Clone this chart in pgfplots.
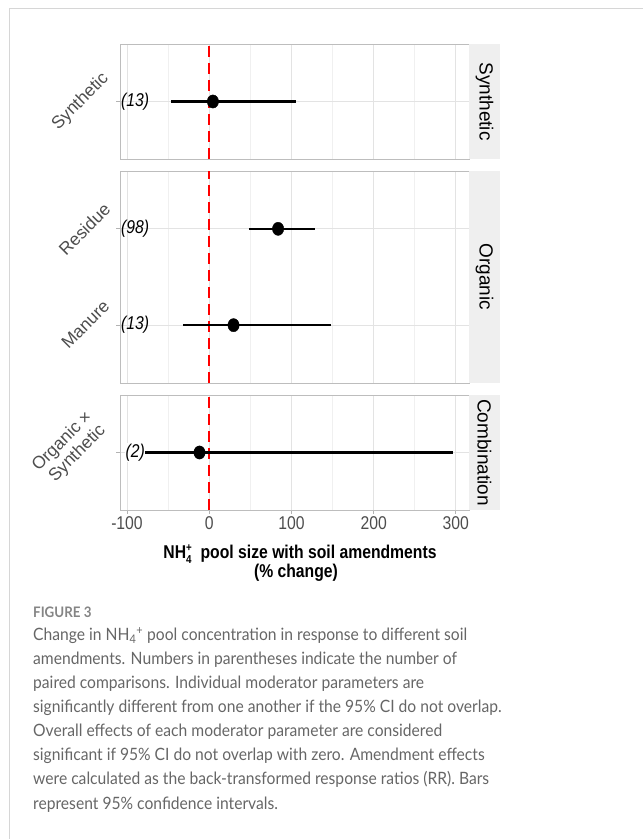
\documentclass[border=0pt]{standalone}
\usepackage{pgfplots}
\pgfplotsset{compat=1.18}
\usepackage{fontspec}
\setmainfont{Liberation Sans}[FakeStretch=0.85]
\newfontfamily\plainsans{Liberation Sans}
\newfontfamily\capfont{Lato}[FakeStretch=0.92]
\definecolor{gridmaj}{HTML}{E3E3E3}
\definecolor{gridmin}{HTML}{F0F0F0}
\definecolor{bordergray}{HTML}{BDBDBD}
\definecolor{tickgray}{HTML}{B3B3B3}
\definecolor{stripgray}{HTML}{EFEFEF}
\definecolor{labgray}{HTML}{4D4D4D}
\definecolor{capgray}{HTML}{666666}
\definecolor{figgray}{HTML}{858585}
\definecolor{framegray}{HTML}{D6D6D6}
\tikzset{nlab/.style={font=\fontsize{18.5}{18.5}\selectfont\itshape, text=black, inner sep=0pt}}
\pgfplotsset{
  panel/.style={
    scale only axis, width=349pt,
    xmin=-108.5, xmax=316,
    xtick={-100,0,100,200,300}, minor xtick={-50,50,150,250},
    xmajorgrids, xminorgrids, ymajorgrids,
    major grid style={color=gridmaj, line width=0.7pt},
    minor grid style={color=gridmin, line width=0.5pt},
    axis line style={color=bordergray, line width=0.8pt},
    tick style={color=tickgray, line width=0.8pt},
    major tick length=4pt, minor tick length=0pt,
    tick align=outside, xtick pos=bottom, ytick pos=left,
    yticklabels={},
    /pgf/number format/assume math mode=true,
    axis background/.style={fill=white},
  },
  toppanel/.style={panel, xticklabels={}, major x tick style={draw=none}},
  vline/.style={red, line width=1.9pt, dash pattern=on 11pt off 6pt},
  ci/.style={black, line width=2.1pt},
  est/.style={only marks, mark=*, mark size=6.6pt, black, mark options={xscale=0.86}},
}
\begin{document}
\begin{tikzpicture}[x=1pt,y=1pt]
\path[use as bounding box] (0,0) rectangle (643,839);
% outer frame
\draw[framegray, line width=1pt] (9,0) -- (9,830) -- (643,830);

% ---------- Panel 1: Synthetic ----------
\begin{axis}[toppanel, at={(120pt,680pt)}, anchor=south west, height=115pt,
  ymin=0.4, ymax=1.6, ytick={1}]
\addplot[vline] coordinates {(0,0.4) (0,1.6)};
\addplot[ci] coordinates {(-46,1) (106,1)};
\addplot[est] coordinates {(4.5,1)};
\node[nlab] at (axis cs:-90,1) {(13)};
\end{axis}

% ---------- Panel 2: Organic ----------
\begin{axis}[toppanel, at={(120pt,456pt)}, anchor=south west, height=212pt,
  ymin=0.4, ymax=2.6, ytick={1,2}]
\addplot[vline] coordinates {(0,0.4) (0,2.6)};
\addplot[ci] coordinates {(48.2,2) (128.4,2)};
\addplot[ci] coordinates {(-32,1) (148.2,1)};
\addplot[est] coordinates {(83.8,2) (29.6,1)};
\node[nlab] at (axis cs:-90,2) {(98)};
\node[nlab] at (axis cs:-90,1) {(13)};
\end{axis}

% ---------- Panel 3: Combination ----------
\begin{axis}[panel, at={(120pt,329pt)}, anchor=south west, height=115pt,
  ymin=0.4, ymax=1.6, ytick={1},
  xticklabel style={font=\fontsize{18.5}{18.5}\selectfont, text=labgray, inner sep=2pt},
  xticklabels={-100,0,100,200,300}]
\addplot[vline] coordinates {(0,0.4) (0,1.6)};
\addplot[ci] coordinates {(-78,1) (297,1)};
\addplot[est] coordinates {(-11.8,1)};
\node[nlab, fill=white, inner sep=0.5pt] at (axis cs:-90,1) {(2)};
\end{axis}

% strips
\fill[stripgray] (469.4,680) rectangle (500,795);
\fill[stripgray] (469.4,456) rectangle (500,668);
\fill[stripgray] (469.4,329) rectangle (500,444);
\node[rotate=-90, font=\plainsans\fontsize{19}{19}\selectfont] at (484.5,737.5) {Synthetic};
\node[rotate=-90, font=\plainsans\fontsize{19}{19}\selectfont] at (484.5,562) {Organic};
\node[rotate=-90, font=\plainsans\fontsize{19}{19}\selectfont] at (484.5,386.5) {Combination};

% y category labels
\begin{scope}[every node/.style={rotate=45, anchor=south east, inner sep=0pt, text=labgray, font=\plainsans\fontsize{17.5}{19}\selectfont}]
\node at (112,757) {Synthetic};
\node at (112,628) {Residue};
\node at (111,531) {Manure};
\node[align=right] at (109,405) {Organic \texttimes\\Synthetic};
\end{scope}

% x axis title
\node[anchor=base, font=\bfseries\fontsize{18.5}{18.5}\selectfont] at (300,280) {NH\makebox[0pt][l]{\raisebox{0.75ex}{\fontsize{11.5}{11.5}\selectfont +}}\raisebox{-0.45ex}{\fontsize{11.5}{11.5}\selectfont 4}\hspace{0.25em} pool size with soil amendments};
\node[anchor=base, font=\bfseries\fontsize{18.5}{18.5}\selectfont] at (296,261) {(\% change)};

% caption
\node[anchor=base west, inner sep=0pt, text=figgray, font=\capfont\bfseries\fontsize{14.5}{14.5}\selectfont] at (33,221) {FIGURE 3};
\begin{scope}[every node/.style={anchor=base west, inner sep=0pt, text=capgray, font=\capfont\fontsize{17}{17}\selectfont}]
\node at (33,198) {Change in NH\textsubscript{4}\textsuperscript{+} pool concentration in response to different soil};
\node at (33,174) {amendments. Numbers in parentheses indicate the number of};
\node at (33,150) {paired comparisons. Individual moderator parameters are};
\node at (33,126) {significantly different from one another if the 95\% CI do not overlap.};
\node at (33,102) {Overall effects of each moderator parameter are considered};
\node at (33,78) {significant if 95\% CI do not overlap with zero. Amendment effects};
\node at (33,54) {were calculated as the back-transformed response ratios (RR). Bars};
\node at (33,30) {represent 95\% confidence intervals.};
\end{scope}
\end{tikzpicture}
\end{document}
